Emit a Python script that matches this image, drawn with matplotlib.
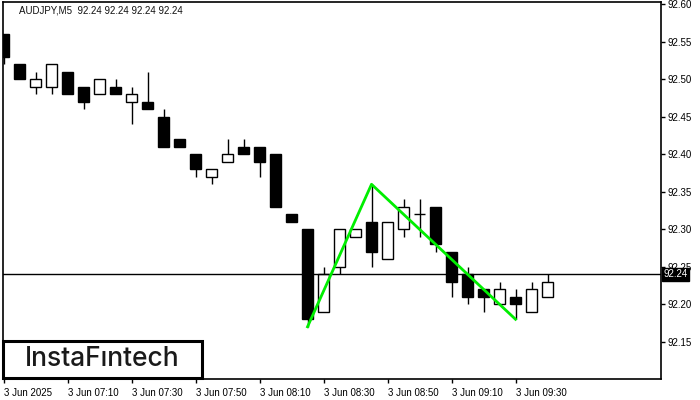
import numpy as np
import matplotlib
matplotlib.use('Agg')
import matplotlib.pyplot as plt
from matplotlib.patches import Rectangle

# AUDJPY M5 candles, 06:50 .. 09:40
opens  = [92.56, 92.52, 92.49, 92.49, 92.51, 92.49, 92.48, 92.49, 92.47, 92.47,
          92.45, 92.42, 92.40, 92.37, 92.39, 92.41, 92.41, 92.40, 92.32, 92.30,
          92.19, 92.25, 92.29, 92.31, 92.26, 92.30, 92.32, 92.33, 92.27, 92.24,
          92.22, 92.20, 92.21, 92.19, 92.21]
highs  = [92.56, 92.52, 92.51, 92.52, 92.51, 92.49, 92.50, 92.50, 92.49, 92.51,
          92.46, 92.42, 92.40, 92.38, 92.42, 92.42, 92.41, 92.40, 92.32, 92.30,
          92.25, 92.30, 92.30, 92.36, 92.31, 92.34, 92.34, 92.33, 92.27, 92.25,
          92.22, 92.23, 92.22, 92.23, 92.24]
lows   = [92.52, 92.50, 92.48, 92.48, 92.48, 92.46, 92.48, 92.48, 92.44, 92.46,
          92.41, 92.41, 92.37, 92.36, 92.39, 92.40, 92.37, 92.33, 92.31, 92.17,
          92.19, 92.24, 92.29, 92.25, 92.26, 92.29, 92.29, 92.27, 92.21, 92.20,
          92.19, 92.20, 92.18, 92.19, 92.21]
closes = [92.53, 92.50, 92.50, 92.52, 92.48, 92.47, 92.50, 92.48, 92.48, 92.46,
          92.41, 92.41, 92.38, 92.38, 92.40, 92.40, 92.39, 92.33, 92.31, 92.18,
          92.24, 92.30, 92.30, 92.27, 92.31, 92.33, 92.32, 92.28, 92.23, 92.21,
          92.21, 92.22, 92.20, 92.22, 92.23]

x_tick_pos = [0, 4, 8, 12, 16, 20, 24, 28, 32]
x_tick_labels = ['3 Jun 2025', '3 Jun 07:10', '3 Jun 07:30', '3 Jun 07:50', '3 Jun 08:10',
                 '3 Jun 08:30', '3 Jun 08:50', '3 Jun 09:10', '3 Jun 09:30']
y_ticks = [92.15, 92.20, 92.25, 92.30, 92.35, 92.40, 92.45, 92.50, 92.55, 92.60]

# pattern (double bottom) line: bar index, price
pattern_x = [19, 23, 32]
pattern_y = [92.17, 92.36, 92.18]

current_price = 92.24
header = 'AUDJPY,M5  92.24 92.24 92.24 92.24'

plt.rcParams['font.family'] = ['Liberation Sans', 'DejaVu Sans']

fig = plt.figure(figsize=(7, 4), dpi=100)
ax = fig.add_axes([2.5 / 700, 20.7 / 400, 658 / 700, 377.3 / 400])

n = len(opens)
x = np.arange(n)
o = np.array(opens)
c = np.array(closes)
h = np.array(highs)
l = np.array(lows)

ax.vlines(x, l, h, color='black', linewidth=1.0, zorder=2)
bull = c >= o
faces = ['white' if b else 'black' for b in bull]
ax.bar(x, np.maximum(np.abs(c - o), 0.0001), bottom=np.minimum(o, c), width=0.66,
       color=faces, edgecolor='black', linewidth=1.0, zorder=3)

ax.axhline(current_price, color='black', linewidth=1.0, zorder=4)
ax.plot(pattern_x, pattern_y, color='#00ee00', linewidth=2.0, zorder=5)

ax.set_xlim(-0.0625, 41.06)
ax.set_ylim(92.10, 92.603)

ax.yaxis.tick_right()
ax.set_yticks(y_ticks)
ax.set_yticklabels(['%.2f' % v for v in y_ticks])
ax.set_xticks(x_tick_pos)
ax.set_xticklabels(x_tick_labels, ha='left')
ax.tick_params(axis='both', direction='out', length=3, width=1, labelsize=7, pad=2)
ax.tick_params(axis='x', pad=3)
for s in ax.spines.values():
    s.set_linewidth(1.2)

# current price label
ax.text(1.004, current_price, '%.2f' % current_price, transform=ax.get_yaxis_transform(),
        ha='left', va='center', fontsize=7, color='white', zorder=10, clip_on=False,
        bbox=dict(boxstyle='square,pad=0.15', facecolor='black', edgecolor='black'))

fig.text(19 / 700, 1 - 10.7 / 400, header, fontsize=7, ha='left', va='center', color='#111111')

# logo
fig.add_artist(Rectangle((2.7 / 700, 22.3 / 400), 199 / 700, 37 / 400, transform=fig.transFigure,
                         facecolor='white', edgecolor='black', linewidth=2.2, zorder=20))
fig.text(102 / 700, 40.7 / 400, 'InstaF\u0131ntech', fontsize=19, family=['Inter', 'DejaVu Sans'],
         fontweight='medium', ha='center', va='center', color='#1a1a1a', zorder=21)

fig.savefig('out.png', dpi=100)
